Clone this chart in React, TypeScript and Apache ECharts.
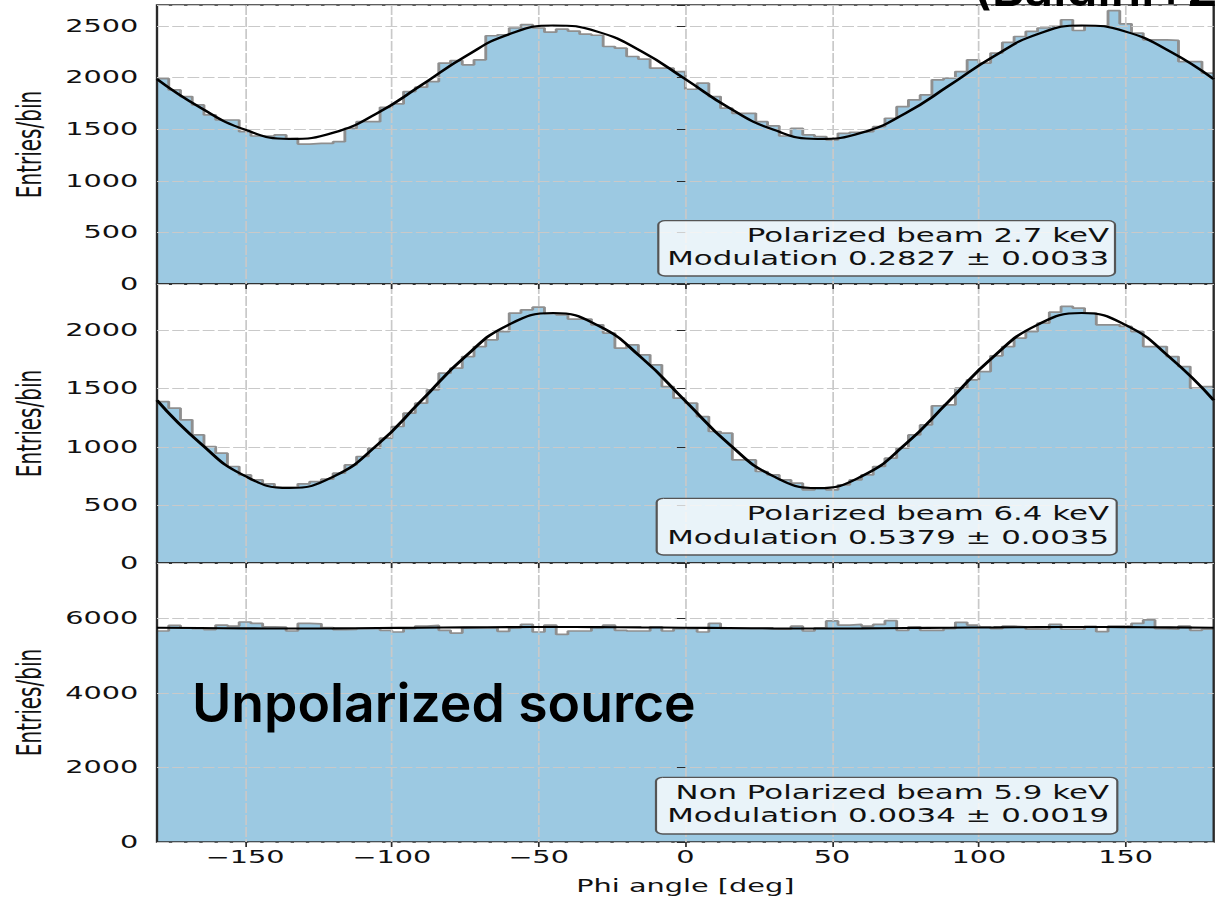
import React, { useEffect, useRef } from "react";
import * as echarts from "echarts";

// ---------------- data ----------------
const PHI_MIN = -180;
const PHI_MAX = 180;
const BIN_WIDTH = 4;

const countsPolarized27 = [
  1990, 1880, 1816, 1735, 1638, 1589, 1589, 1476, 1434, 1434,
  1444, 1412, 1356, 1362, 1362, 1379, 1508, 1573, 1573, 1712,
  1745, 1864, 1907, 1961, 2140, 2165, 2123, 2172, 2405, 2415,
  2480, 2512, 2480, 2440, 2470, 2450, 2420, 2410, 2301, 2285,
  2204, 2178, 2091, 2091, 2058, 1887, 1946, 1816, 1703, 1654,
  1654, 1573, 1531, 1434, 1508, 1444, 1428, 1395, 1460, 1470,
  1476, 1524, 1606, 1718, 1784, 1832, 1978, 1994, 2058, 2172,
  2140, 2237, 2340, 2398, 2447, 2480, 2495, 2560, 2456, 2500,
  2500, 2648, 2521, 2431, 2366, 2366, 2360, 2155, 2155, 2043,
];

const countsPolarized64 = [
  1389, 1332, 1232, 1103, 1002, 945, 830, 758, 715, 681,
  652, 655, 681, 700, 721, 773, 844, 916, 988, 1074,
  1174, 1289, 1375, 1490, 1633, 1676, 1776, 1862, 1920, 1991,
  2150, 2178, 2201, 2144, 2135, 2098, 2098, 2049, 1978, 1848,
  1877, 1791, 1705, 1518, 1418, 1375, 1260, 1131, 1117, 887,
  887, 787, 758, 715, 687, 629, 644, 629, 672, 715,
  758, 830, 902, 988, 1102, 1188, 1352, 1360, 1504, 1576,
  1647, 1782, 1862, 1935, 1991, 2064, 2158, 2207, 2193, 2150,
  2049, 2049, 2035, 1991, 1862, 1862, 1776, 1690, 1504, 1518,
];

const countsUnpolarized59 = [
  5657, 5806, 5741, 5720, 5694, 5815, 5790, 5898, 5861, 5769,
  5760, 5657, 5861, 5850, 5750, 5694, 5700, 5722, 5722, 5676,
  5630, 5722, 5790, 5806, 5676, 5602, 5741, 5741, 5741, 5648,
  5741, 5833, 5630, 5815, 5565, 5657, 5657, 5750, 5815, 5676,
  5657, 5657, 5769, 5657, 5722, 5722, 5630, 5861, 5722, 5722,
  5722, 5722, 5704, 5704, 5787, 5657, 5740, 5926, 5815, 5833,
  5790, 5833, 5935, 5676, 5769, 5676, 5676, 5722, 5889, 5815,
  5760, 5722, 5787, 5769, 5704, 5704, 5833, 5704, 5704, 5780,
  5640, 5787, 5787, 5861, 5954, 5722, 5704, 5787, 5676, 5704,
];

const fitPhi = [
  -180, -165, -150, -135, -120, -105, -90, -75, -60, -45, -30, -15, 0,
  15, 30, 45, 60, 75, 90, 105, 120, 135, 150, 165, 180,
];
const fitPolarized27 = [
  1985, 1705, 1495, 1405, 1465, 1655, 1925, 2205, 2420, 2505, 2445, 2255, 1985,
  1705, 1495, 1405, 1465, 1655, 1925, 2205, 2420, 2505, 2445, 2255, 1985,
];
const fitPolarized64 = [
  1400, 1025, 748, 645, 742, 1015, 1395, 1775, 2052, 2150, 2046, 1768, 1394,
  1020, 746, 644, 745, 1022, 1398, 1776, 2050, 2150, 2047, 1770, 1400,
];
const fitUnpolarized59 = [
  5745, 5736, 5728, 5725, 5728, 5736, 5745, 5754, 5762, 5765, 5762, 5754, 5745,
  5736, 5728, 5725, 5728, 5736, 5745, 5754, 5762, 5765, 5762, 5754, 5745,
];

const xTickValues = [-150, -100, -50, 0, 50, 100, 150];
const yMaxima = [2703, 2400, 7480];
const yIntervals = [500, 500, 2000];

const boxLines = [
  ["Polarized beam 2.7 keV", "Modulation 0.2827 \u00b1 0.0033"],
  ["Polarized beam 6.4 keV", "Modulation 0.5379 \u00b1 0.0035"],
  ["Non Polarized beam 5.9 keV", "Modulation 0.0034 \u00b1 0.0019"],
];
const xAxisTitle = "Phi angle [deg]";
const yAxisTitle = "Entries/bin";
const overlayText = "Unpolarized source";
const citeText = "(Baldini+2021)";

// ---------------- layout ----------------
const PAGE_W = 1218;
const PAGE_H = 903;
const CHART_W = 720;
const S = PAGE_W / CHART_W; // horizontal stretch of the original figure

const GRID_LEFT = 157 / S;
const GRID_RIGHT_PAGE = 1213.7;
const GRID_W = GRID_RIGHT_PAGE / S - GRID_LEFT;
const GRID_TOPS = [5, 284, 563];
const GRID_H = 279;

const BOXES = [
  { x0: 658.3, x1: 1115, y0: 220.7, y1: 276, l1: 235, l2: 258.3 },
  { x0: 656.7, x1: 1116.7, y0: 498.3, y1: 555, l1: 513.3, l2: 536.7 },
  { x0: 656, x1: 1117.3, y0: 777.3, y1: 834, l1: 792.3, l2: 815 },
];
const TEXT_RIGHT_PAGE = 1109;

const FONT = "DejaVu Sans";
const FILL = "#9cc9e2";
const EDGE = "#8f8f8f";
const GRIDLINE = "#c9c9c9";

function stepData(counts: number[]) {
  const pts: number[][] = counts.map((c, i) => [PHI_MIN + i * BIN_WIDTH, c]);
  pts.push([PHI_MAX, counts[counts.length - 1]]);
  return pts;
}

function fitData(vals: number[]) {
  return fitPhi.map((x, k) => [x, vals[k]]);
}

const minusFmt = (v: number) => (v < 0 ? "\u2212" + Math.abs(v) : String(v));

export default function App() {
  const ref = useRef<HTMLDivElement>(null);

  useEffect(() => {
    if (!ref.current) return;
    const chart = echarts.init(ref.current, undefined, { renderer: "svg" });

    const countsAll = [countsPolarized27, countsPolarized64, countsUnpolarized59];
    const fitsAll = [fitPolarized27, fitPolarized64, fitUnpolarized59];

    const grid = GRID_TOPS.map((t) => ({
      left: GRID_LEFT,
      width: GRID_W,
      top: t,
      height: GRID_H,
      show: true,
      borderColor: "#2a2a2a",
      borderWidth: 1.4,
      backgroundColor: "transparent",
      containLabel: false,
      outerBoundsMode: "none",
    }));

    const xAxis = GRID_TOPS.map((_, i) => ({
      type: "value",
      gridIndex: i,
      min: PHI_MIN,
      max: PHI_MAX,
      axisLine: { show: false },
      axisTick: {
        show: true,
        customValues: xTickValues,
        length: 5,
        lineStyle: { color: "#2a2a2a", width: 1 },
      },
      axisLabel: {
        show: i === 2,
        customValues: xTickValues,
        formatter: minusFmt,
        fontSize: 17,
        fontFamily: FONT,
        color: "#111",
        margin: 7,
      },
      splitLine: {
        show: true,
        lineStyle: { color: GRIDLINE, width: 1, type: [10, 2] },
      },
      name: i === 2 ? xAxisTitle : "",
      nameLocation: "middle",
      nameGap: 36,
      nameTextStyle: { fontSize: 17, fontFamily: FONT, color: "#111" },
    }));

    const yAxis = GRID_TOPS.map((_, i) => ({
      type: "value",
      gridIndex: i,
      min: 0,
      max: yMaxima[i],
      interval: yIntervals[i],
      axisLine: { show: false },
      axisTick: { show: true, length: 5, lineStyle: { color: "#2a2a2a", width: 1 } },
      axisLabel: {
        fontSize: 17,
        fontFamily: FONT,
        color: "#111",
        margin: 11,
        formatter: (v: number) => (v % yIntervals[i] === 0 ? String(v) : ""),
      },
      splitLine: {
        show: true,
        lineStyle: { color: GRIDLINE, width: 1, type: [7, 2] },
      },
      name: yAxisTitle,
      nameLocation: "middle",
      nameRotate: 90,
      nameGap: 61,
      nameTextStyle: { fontSize: 20, fontFamily: FONT, color: "#111" },
    }));

    const series: any[] = [];
    countsAll.forEach((counts, i) => {
      series.push({
        type: "line",
        xAxisIndex: i,
        yAxisIndex: i,
        data: stepData(counts),
        step: "end",
        symbol: "none",
        lineStyle: { color: EDGE, width: 1.7 },
        areaStyle: { color: FILL, opacity: 1 },
        z: -1,
        silent: true,
      });
      series.push({
        type: "line",
        xAxisIndex: i,
        yAxisIndex: i,
        data: fitData(fitsAll[i]),
        smooth: true,
        symbol: "none",
        lineStyle: { color: "#000", width: 2.1 },
        z: 5,
        silent: true,
      });
    });

    const graphic: any[] = [];
    BOXES.forEach((b, i) => {
      graphic.push({
        type: "rect",
        z: 20,
        shape: { x: b.x0 / S, y: b.y0, width: (b.x1 - b.x0) / S, height: b.y1 - b.y0, r: 4 },
        style: { fill: "rgba(255,255,255,0.78)", stroke: "#555", lineWidth: 1.3 },
      });
      [b.l1, b.l2].forEach((yy, k) => {
        graphic.push({
          type: "text",
          z: 21,
          x: TEXT_RIGHT_PAGE / S,
          y: yy,
          scaleX: 0.92,
          style: {
            text: boxLines[i][k],
            align: "right",
            verticalAlign: "middle",
            textAlign: "right",
            textVerticalAlign: "middle",
            fontSize: 19.8,
            fontFamily: FONT,
            fill: "#111",
          },
        });
      });
    });
    graphic.push({
      type: "text",
      z: 22,
      x: 192 / S,
      y: 702,
      scaleX: 1 / S,
      style: {
        text: overlayText,
        verticalAlign: "middle",
        textVerticalAlign: "middle",
        fontSize: 53.5,
        fontWeight: 600,
        fontFamily: "Inter",
        fill: "#000",
      },
    });
    graphic.push({
      type: "text",
      z: 22,
      x: 973 / S,
      y: -12,
      scaleX: 1 / S,
      style: {
        text: citeText,
        verticalAlign: "middle",
        textVerticalAlign: "middle",
        fontSize: 50,
        fontWeight: 600,
        fontFamily: "Inter",
        fill: "#000",
      },
    });

    chart.setOption({
      animation: false,
      backgroundColor: "#fff",
      grid,
      xAxis,
      yAxis,
      series,
      graphic,
    } as any);

    return () => chart.dispose();
  }, []);

  return (
    <div
      style={{
        position: "absolute",
        left: 0,
        top: 0,
        width: PAGE_W,
        height: PAGE_H,
        overflow: "hidden",
        background: "#fff",
      }}
    >
      <div
        ref={ref}
        style={{
          width: CHART_W,
          height: PAGE_H,
          transform: `scaleX(${S})`,
          transformOrigin: "0 0",
        }}
      />
    </div>
  );
}
